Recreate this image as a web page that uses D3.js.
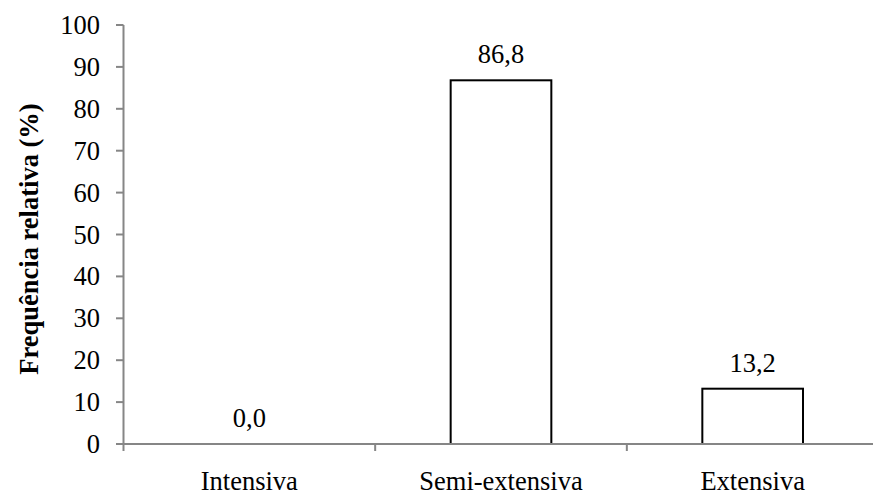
<!DOCTYPE html>
<html>
<head>
<meta charset="utf-8">
<script src="https://cdn.jsdelivr.net/npm/d3@7"></script>
<style>
  body { margin: 0; background: #fff; }
  svg { display: block; }
  text { font-family: "Liberation Serif", "Times New Roman", serif; fill: #000; }
</style>
</head>
<body>
<script>
// dados
var categorias = ["Intensiva", "Semi-extensiva", "Extensiva"];
var valores = [0.0, 86.8, 13.2];
var rotulos = ["0,0", "86,8", "13,2"];
var ticksY = [0, 10, 20, 30, 40, 50, 60, 70, 80, 90, 100];

var W = 873, H = 496;
var svg = d3.select("body").append("svg")
    .attr("width", W)
    .attr("height", H);

var x = d3.scaleBand().domain(categorias).range([123.5, 878.5]).padding(0);
var y = d3.scaleLinear().domain([0, 100]).range([444, 25]);
var barW = x.bandwidth() * 0.4;
var eixoCor = "#868686";
var fonte = "26.5px";

// barras
svg.selectAll("rect.barra")
    .data(valores)
    .enter().append("rect")
    .attr("class", "barra")
    .attr("x", (d, i) => x(categorias[i]) + x.bandwidth() / 2 - barW / 2)
    .attr("y", d => y(d))
    .attr("width", barW)
    .attr("height", d => y(0) - y(d))
    .attr("fill", "#fff")
    .attr("stroke", "#000")
    .attr("stroke-width", 2);

// eixo y
svg.append("line")
    .attr("x1", 123.5).attr("x2", 123.5)
    .attr("y1", y(100)).attr("y2", y(0))
    .attr("stroke", eixoCor).attr("stroke-width", 2);

svg.selectAll("line.tickY")
    .data(ticksY)
    .enter().append("line")
    .attr("class", "tickY")
    .attr("x1", 116).attr("x2", 123.5)
    .attr("y1", d => y(d)).attr("y2", d => y(d))
    .attr("stroke", eixoCor).attr("stroke-width", 2);

svg.selectAll("text.tickY")
    .data(ticksY)
    .enter().append("text")
    .attr("class", "tickY")
    .attr("x", 100)
    .attr("y", d => y(d))
    .attr("dy", "0.34em")
    .attr("text-anchor", "end")
    .style("font-size", fonte)
    .text(d => d);

// eixo x
svg.append("line")
    .attr("x1", 122.5).attr("x2", 878.5)
    .attr("y1", y(0)).attr("y2", y(0))
    .attr("stroke", eixoCor).attr("stroke-width", 2);

var bordas = categorias.map(c => x(c)).concat([x.range()[1]]);
svg.selectAll("line.tickX")
    .data(bordas)
    .enter().append("line")
    .attr("class", "tickX")
    .attr("x1", d => d).attr("x2", d => d)
    .attr("y1", y(0)).attr("y2", y(0) + 7)
    .attr("stroke", eixoCor).attr("stroke-width", 2);

svg.selectAll("text.cat")
    .data(categorias)
    .enter().append("text")
    .attr("class", "cat")
    .attr("x", d => x(d) + x.bandwidth() / 2)
    .attr("y", 490)
    .attr("text-anchor", "middle")
    .style("font-size", fonte)
    .text(d => d);

// rótulos de valor
svg.selectAll("text.valor")
    .data(valores)
    .enter().append("text")
    .attr("class", "valor")
    .attr("x", (d, i) => x(categorias[i]) + x.bandwidth() / 2)
    .attr("y", d => y(d) - 17)
    .attr("text-anchor", "middle")
    .style("font-size", fonte)
    .text((d, i) => rotulos[i]);

// título do eixo y
svg.append("text")
    .attr("transform", "translate(38,239) rotate(-90)")
    .attr("text-anchor", "middle")
    .style("font-size", fonte)
    .style("font-weight", "bold")
    .text("Frequência relativa (%)");
</script>
</body>
</html>
